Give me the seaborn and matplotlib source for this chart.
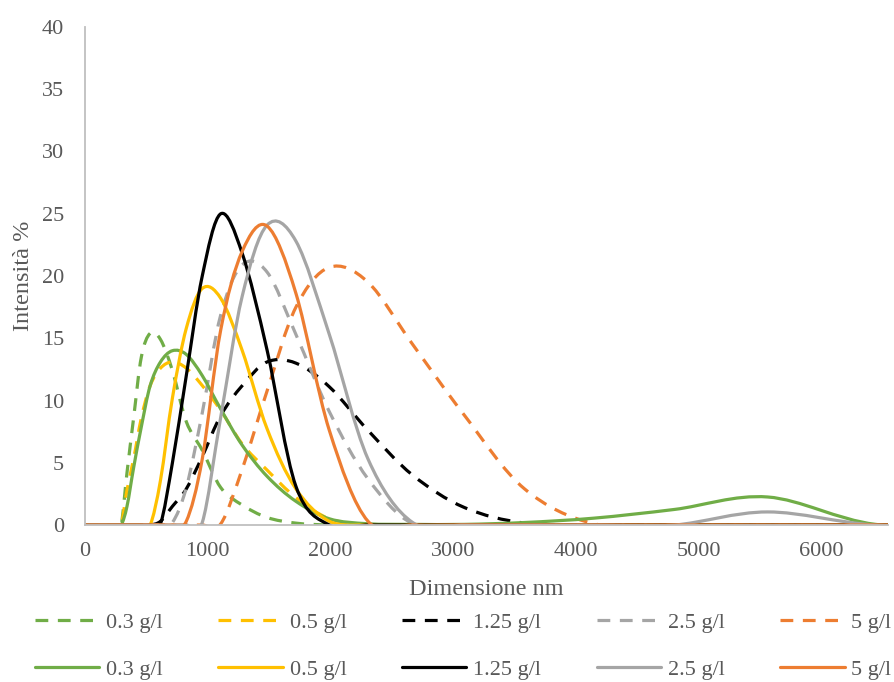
import numpy as np
import pandas as pd
import matplotlib
matplotlib.use("Agg")
import matplotlib.pyplot as plt
from matplotlib.path import Path
from matplotlib.patches import PathPatch
from matplotlib.lines import Line2D
import seaborn as sns

# Size classes (nm) of the DLS distribution
sizes = [0.4, 255, 295, 342, 396, 459, 531, 615, 712, 825, 955, 1106, 1281,
         1484, 1718, 1990, 2305, 2669, 3091, 3580, 4145, 4801, 5560, 6439, 7456]

# Intensity (%) per size class, dashed series
dash_03 = [0, 0, 0, 4.2, 8.6, 13.5, 15.4, 14.9, 12.4, 8.3, 6.0, 3.0, 1.6,
           0.6, 0.15, 0, 0, 0, 0, 0, 0, 0, 0, 0, 0]
dash_05 = [0, 0, 0, 2.8, 5.3, 8.6, 11.2, 12.6, 13.1, 12.6, 11.2, 9.2, 6.5,
           4.4, 2.2, 0.5, 0, 0, 0, 0, 0, 0, 0, 0, 0]
dash_125 = [0, 0, 0, 0, 0, 0, 0, 0.3, 1.5, 2.9, 5.5, 8.8, 11.2,
            13.1, 13.0, 11.1, 7.6, 4.0, 1.4, 0.15, 0, 0, 0, 0, 0]
dash_25 = [0, 0, 0, 0, 0, 0, 0, 0, 0.2, 3.0, 9.0, 16.9, 20.9,
           20.3, 15.3, 9.1, 3.7, 0.1, 0, 0, 0, 0, 0, 0, 0]
dash_5 = [0, 0, 0, 0, 0, 0, 0, 0, 0, 0, 0, 0.1, 4.5,
          10.8, 17.5, 20.7, 19.5, 14.5, 8.8, 2.9, 0.1, 0, 0, 0, 0]

# Intensity (%) per size class, solid series
solid_03 = [0, 0, 0, 1.5, 4.6, 7.9, 11.2, 13.1, 14.0, 13.7, 12.0, 9.3, 6.4,
            3.9, 1.9, 0.5, 0.1, 0.05, 0.05, 0.2, 0.55, 1.25, 2.25, 0.05, 0]
solid_05 = [0, 0, 0, 0, 0, 0, 0, 3.6, 10.2, 15.8, 19.0, 18.2, 14.0,
            7.7, 2.9, 0.3, 0, 0, 0, 0, 0, 0, 0, 0, 0]
solid_125 = [0, 0, 0, 0, 0, 0, 0, 0.1, 5.0, 12.0, 20.0, 25.0, 21.8,
             14.0, 3.1, 0, 0, 0, 0, 0, 0, 0, 0, 0, 0]
solid_25 = [0, 0, 0, 0, 0, 0, 0, 0, 0, 0, 0.2, 8.7, 18.4,
            24.1, 22.8, 15.3, 5.3, 0.2, 0, 0, 0, 0, 1.05, 0, 0]
solid_5 = [0, 0, 0, 0, 0, 0, 0, 0, 0, 0.3, 5.3, 15.7, 22.0,
           24.0, 18.6, 7.6, 0.3, 0, 0, 0, 0, 0, 0, 0, 0]

labels = ["0.3 g/l", "0.5 g/l", "1.25 g/l", "2.5 g/l", "5 g/l"]
colors = ["#70AD47", "#FFC000", "#000000", "#A5A5A5", "#ED7D31"]
dashed = [dash_03, dash_05, dash_125, dash_25, dash_5]
solid = [solid_03, solid_05, solid_125, solid_25, solid_5]

x_ticks = [0, 1000, 2000, 3000, 4000, 5000, 6000]
y_ticks = [0, 5, 10, 15, 20, 25, 30, 35, 40]

TEXT = "#595959"
AXIS = "#BFBFBF"
LW = 2.3
DASH = (0, (4, 3))

sns.set_theme(style="white")
plt.rcParams["font.family"] = ["Liberation Serif", "DejaVu Serif"]


def smooth_path(x, y):
    """Cubic Bezier path through the points (smoothed line)."""
    pts = np.column_stack([x, y]).astype(float)
    n = len(pts)
    verts = [pts[0]]
    codes = [Path.MOVETO]
    for i in range(n - 1):
        p0 = pts[i - 1] if i > 0 else pts[i]
        p1 = pts[i]
        p2 = pts[i + 1]
        p3 = pts[i + 2] if i + 2 < n else pts[i + 1]
        verts += [p1 + (p2 - p0) / 6.0, p2 - (p3 - p1) / 6.0, p2]
        codes += [Path.CURVE4] * 3
    return Path(verts, codes)


fig = plt.figure(figsize=(8.94, 6.82), dpi=100)
ax = fig.add_axes([85 / 894, 1 - 525 / 682, (888 - 85) / 894, (525 - 27) / 682])

series = [(v, c, DASH) for v, c in zip(dashed, colors)] + \
         [(v, c, "-") for v, c in zip(solid, colors)]

for values, color, ls in series:
    df = pd.DataFrame({"size": sizes, "intensity": values})
    sns.lineplot(data=df, x="size", y="intensity", ax=ax, color=color,
                 lw=LW, linestyle=ls, sort=False, estimator=None)
    line = ax.lines[-1]
    xd, yd = line.get_data()
    line.remove()
    ax.add_patch(PathPatch(smooth_path(xd, yd), fill=False, edgecolor=color,
                           lw=LW, linestyle=ls, capstyle="butt",
                           joinstyle="round"))

ax.set_xlim(0, 6540)
ax.set_ylim(0, 40)
ax.set_xticks(x_ticks)
ax.set_yticks(y_ticks)
ax.tick_params(axis="both", length=0, labelsize=16, labelcolor=TEXT)
ax.tick_params(axis="x", pad=12)
ax.tick_params(axis="y", pad=15)

for side in ("top", "right"):
    ax.spines[side].set_visible(False)
for side in ("left", "bottom"):
    ax.spines[side].set_color(AXIS)
    ax.spines[side].set_linewidth(1.3)

ax.set_xlabel("Dimensione nm", fontsize=17.5, color=TEXT, labelpad=13)
ax.set_ylabel("Intensità %", fontsize=17.5, color=TEXT, labelpad=6)

handles = []
for i in range(5):
    handles.append(Line2D([], [], color=colors[i], lw=LW, linestyle=DASH,
                          label=labels[i], dash_capstyle="butt"))
    handles.append(Line2D([], [], color=colors[i], lw=LW, linestyle="-",
                          label=labels[i]))

leg = fig.legend(handles=handles, ncol=5, loc="upper left",
                 bbox_to_anchor=(35 / 894, 1 - 612 / 682),
                 frameon=False, fontsize=16, handlelength=2.9,
                 handletextpad=0.3, columnspacing=2.5, labelspacing=1.2,
                 borderpad=0, borderaxespad=0)
for t in leg.get_texts():
    t.set_color(TEXT)

fig.savefig("out.png", dpi=100)
